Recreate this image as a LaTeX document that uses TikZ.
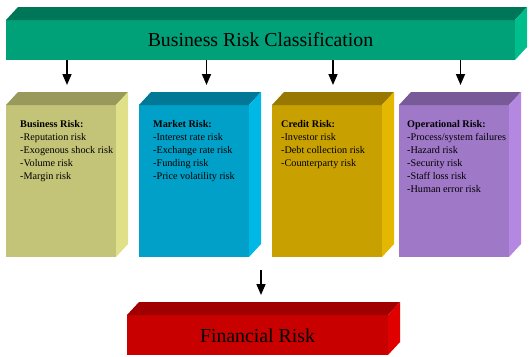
\documentclass[tikz,border=0pt]{standalone}
\usepackage{fontspec}
\setmainfont{Liberation Serif}
\usetikzlibrary{arrows.meta}
\definecolor{gF}{RGB}{0,160,120}\definecolor{gT}{RGB}{0,118,88}\definecolor{gS}{RGB}{0,190,140}
\definecolor{bF}{RGB}{196,196,120}\definecolor{bT}{RGB}{153,153,92}\definecolor{bS}{RGB}{224,224,136}
\definecolor{mF}{RGB}{0,160,200}\definecolor{mT}{RGB}{0,120,150}\definecolor{mS}{RGB}{0,184,230}
\definecolor{cF}{RGB}{200,160,0}\definecolor{cT}{RGB}{152,120,0}\definecolor{cS}{RGB}{228,184,0}
\definecolor{oF}{RGB}{160,120,200}\definecolor{oT}{RGB}{120,90,152}\definecolor{oS}{RGB}{180,136,224}
\definecolor{fF}{RGB}{200,0,0}\definecolor{fT}{RGB}{160,0,0}\definecolor{fS}{RGB}{224,0,0}
\tikzset{
  front/.style={inner sep=0pt, outer sep=0pt, draw=none},
  catbox/.style={front, minimum width=110pt, minimum height=152pt},
  boxtext/.style={anchor=north west, inner sep=0pt, align=left, font=\fontsize{10.2}{13}\selectfont},
  bigtext/.style={font=\fontsize{19.8}{22}\selectfont},
  arr/.style={line width=1.6pt, -{Triangle[width=9pt,length=11pt]}, shorten >=7pt},
}
% #1 node name, #2 top colour, #3 side colour
\newcommand{\cubefaces}[3]{%
  \fill[#2] (#1.north west) -- ([shift={(12pt,13pt)}]#1.north west) -- ([shift={(12pt,13pt)}]#1.north east) -- (#1.north east) -- cycle;
  \fill[#3] (#1.north east) -- ([shift={(12pt,13pt)}]#1.north east) -- ([shift={(12pt,13pt)}]#1.south east) -- (#1.south east) -- cycle;
}
\begin{document}
\begin{tikzpicture}[x=1pt,y=-1pt]
\useasboundingbox (0,0) rectangle (529,356);
% top
\node[front, fill=gF, minimum width=509pt, minimum height=40pt] (top) at (260.5,40) {};
\cubefaces{top}{gT}{gS}
\node[bigtext] (toptext) at (top.center) {Business Risk Classification};
% category boxes
\node[catbox, fill=bF] (b1) at (61,181) {};
\node[catbox, fill=mF] (b2) at (194,181) {};
\node[catbox, fill=cF] (b3) at (327,181) {};
\node[catbox, fill=oF] (b4) at (454,181) {};
\cubefaces{b1}{bT}{bS}
\cubefaces{b2}{mT}{mS}
\cubefaces{b3}{cT}{cS}
\cubefaces{b4}{oT}{oS}
\node[boxtext] (t1) at ([shift={(14pt,-15.5pt)}]b1.north west) {\textbf{Business Risk:}\\-Reputation risk\\-Exogenous shock risk\\-Volume risk\\-Margin risk};
\node[boxtext] (t2) at ([shift={(14pt,-15.5pt)}]b2.north west) {\textbf{Market Risk:}\\-Interest rate risk\\-Exchange rate risk\\-Funding risk\\-Price volatility risk};
\node[boxtext] (t3) at ([shift={(9pt,-15.5pt)}]b3.north west) {\textbf{Credit Risk:}\\-Investor risk\\-Debt collection risk\\-Counterparty risk};
\node[boxtext] (t4) at ([shift={(8pt,-15.5pt)}]b4.north west) {\textbf{Operational Risk:}\\-Process/system failures\\-Hazard risk\\-Security risk\\-Staff loss risk\\-Human error risk};
% financial
\node[front, fill=fF, minimum width=261pt, minimum height=40pt] (fin) at (257.5,335) {};
\cubefaces{fin}{fT}{fS}
\node[bigtext] (fintext) at ([yshift=-1pt]fin.center) {Financial Risk};
\coordinate (fintop) at ([yshift=13pt]fin.north);
% arrows
\foreach \b/\dx in {b1/6,b2/12.5,b3/6,b4/6.5}{
  \draw[arr] ([xshift=\dx pt]\b.north |- top.south) -- ([shift={(\dx pt,13pt)}]\b.north);
}
\coordinate (fs) at (261,270);
\draw[arr] (fs) -- (fs |- fintop);
\end{tikzpicture}
\end{document}
